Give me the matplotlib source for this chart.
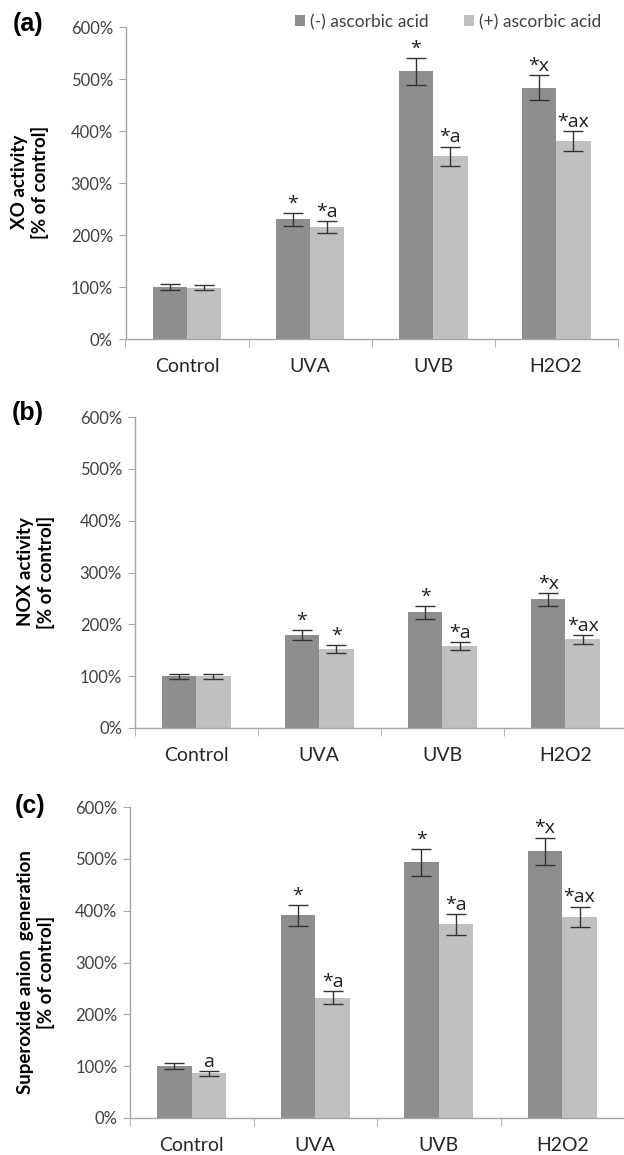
import numpy as np
import matplotlib
matplotlib.use("Agg")
import matplotlib.pyplot as plt

plt.rcParams["font.family"] = ["Lato", "DejaVu Sans"]

W, H = 624, 1155

categories = ["Control", "UVA", "UVB", "H2O2"]
series_names = ["(-) ascorbic acid", "(+) ascorbic acid"]

# panel (a) XO activity, % of control
xo_minus = [100, 230, 515, 483]
xo_minus_err = [5, 12, 26, 24]
xo_plus = [99, 215, 351, 381]
xo_plus_err = [5, 12, 19, 19]
xo_minus_lbl = ["", "*", "*", "*x"]
xo_plus_lbl = ["", "*a", "*a", "*ax"]

# panel (b) NOX activity
nox_minus = [100, 180, 223, 248]
nox_minus_err = [5, 10, 12, 13]
nox_plus = [100, 153, 158, 171]
nox_plus_err = [5, 8, 8, 9]
nox_minus_lbl = ["", "*", "*", "*x"]
nox_plus_lbl = ["", "*", "*a", "*ax"]

# panel (c) superoxide anion generation
sox_minus = [100, 391, 493, 515]
sox_minus_err = [6, 20, 26, 26]
sox_plus = [86, 232, 374, 388]
sox_plus_err = [5, 13, 20, 20]
sox_minus_lbl = ["", "*", "*", "*x"]
sox_plus_lbl = ["a", "*a", "*a", "*ax"]

DARK = "#8e8e8e"
LIGHT = "#c0c0c0"
AXC = "#a6a6a6"
TXT = "#404040"

fig = plt.figure(figsize=(W / 100, H / 100), dpi=100)


def px_axes(left, right, top, bottom):
    return fig.add_axes([left / W, 1 - bottom / H, (right - left) / W, (bottom - top) / H])


def panel(ax, minus, minus_err, plus, plus_err, lbl_m, lbl_p):
    x = np.arange(len(categories))
    bw = 0.28
    b1 = ax.bar(x - bw / 2, minus, bw, color=DARK, label=series_names[0], zorder=2)
    b2 = ax.bar(x + bw / 2, plus, bw, color=LIGHT, label=series_names[1], zorder=2)
    for xs, v, e in [(x - bw / 2, minus, minus_err), (x + bw / 2, plus, plus_err)]:
        ax.errorbar(xs, v, yerr=e, fmt="none", ecolor="#333333", elinewidth=1,
                    capsize=7, capthick=1, zorder=3)
    for xs, v, e, lbls in [(x - bw / 2, minus, minus_err, lbl_m), (x + bw / 2, plus, plus_err, lbl_p)]:
        for xi, vi, ei, t in zip(xs, v, e, lbls):
            if t:
                ax.annotate(t, (xi, vi + ei), xytext=(0, 3), textcoords="offset points",
                            ha="center", va="baseline", fontsize=14, color="#202020",
                            family=["Open Sans", "DejaVu Sans"])
    ax.set_xlim(-0.5, 3.5)
    ax.set_ylim(0, 600)
    ax.set_yticks(np.arange(0, 601, 100))
    ax.set_yticklabels([f"{v}%" for v in range(0, 601, 100)])
    ax.set_xticks(x)
    ax.set_xticklabels(categories)
    ax.set_xticks(np.arange(-0.5, 3.6, 1), minor=True)
    ax.tick_params(axis="x", which="major", length=0, pad=14, labelsize=14, labelcolor="#262626")
    ax.tick_params(axis="x", which="minor", length=6, color=AXC, direction="out")
    ax.tick_params(axis="y", length=5, color=AXC, labelsize=12, labelcolor=TXT, pad=4)
    for s in ["top", "right"]:
        ax.spines[s].set_visible(False)
    for s in ["left", "bottom"]:
        ax.spines[s].set_color(AXC)
        ax.spines[s].set_linewidth(1)
    ax.set_facecolor("none")
    return b1, b2


ax_a = px_axes(125.5, 617.6, 27, 339)
b1, b2 = panel(ax_a, xo_minus, xo_minus_err, xo_plus, xo_plus_err, xo_minus_lbl, xo_plus_lbl)
ax_a.legend(handles=[b1, b2], ncol=2, frameon=False, loc="center", fontsize=12.5,
            bbox_to_anchor=(448 / W, 1 - 22 / H), bbox_transform=fig.transFigure,
            handlelength=0.6, handleheight=0.6, handletextpad=0.3, columnspacing=2.0,
            labelcolor=TXT)

ax_b = px_axes(134.5, 627, 417, 728)
panel(ax_b, nox_minus, nox_minus_err, nox_plus, nox_plus_err, nox_minus_lbl, nox_plus_lbl)

ax_c = px_axes(130, 624, 807, 1118)
panel(ax_c, sox_minus, sox_minus_err, sox_plus, sox_plus_err, sox_minus_lbl, sox_plus_lbl)

ylabels = [("XO activity\n[% of control]", 30, 182),
           ("NOX activity\n[% of control]", 36, 572),
           ("Superoxide anion  generation\n[% of control]", 36, 972)]
for txt, xp, yp in ylabels:
    fig.text(xp / W, 1 - yp / H, txt, rotation=90, ha="center", va="center",
             multialignment="center", fontsize=13.5, fontweight="bold", linespacing=1.15)

for lab, xp, yp in [("(a)", 28, 24), ("(b)", 28, 413), ("(c)", 30, 806)]:
    fig.text(xp / W, 1 - yp / H, lab, ha="center", va="center", fontsize=18,
             fontweight="bold", family=["Liberation Sans", "DejaVu Sans"])

fig.savefig("out.png", dpi=100)
